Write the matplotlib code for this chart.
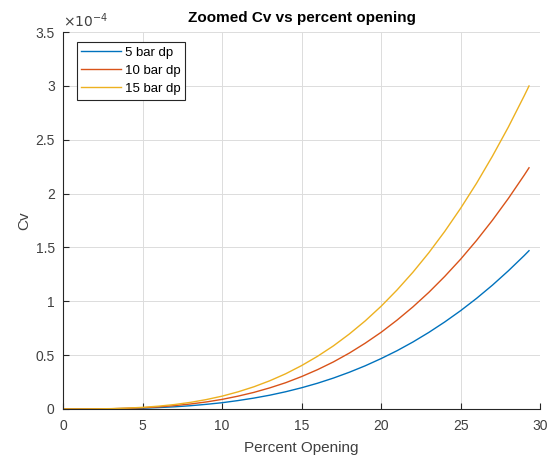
import matplotlib
matplotlib.use("Agg")
import matplotlib.pyplot as plt
from matplotlib.ticker import FuncFormatter

plt.rcParams['font.family'] = ['Liberation Sans', 'DejaVu Sans']

# percent opening
opening = [0, 1, 2, 3, 4, 5, 6, 7, 8, 9, 10, 11, 12, 13, 14, 15, 16, 17, 18, 19,
           20, 21, 22, 23, 24, 25, 26, 27, 28, 29, 29.3]
# Cv values (in units of 1e-4)
cv_5bar = [0, 0, 0, 0.002, 0.004, 0.007, 0.013, 0.02, 0.03, 0.043, 0.058, 0.078,
           0.101, 0.128, 0.16, 0.197, 0.239, 0.287, 0.341, 0.401, 0.468, 0.541,
           0.622, 0.711, 0.808, 0.913, 1.027, 1.15, 1.283, 1.425, 1.47]
cv_10bar = [0, 0, 0.001, 0.002, 0.006, 0.011, 0.019, 0.031, 0.046, 0.065, 0.089,
            0.119, 0.154, 0.196, 0.244, 0.301, 0.365, 0.437, 0.519, 0.611, 0.712,
            0.825, 0.948, 1.083, 1.231, 1.391, 1.565, 1.753, 1.955, 2.172, 2.24]
cv_15bar = [0, 0, 0.001, 0.003, 0.008, 0.015, 0.026, 0.041, 0.061, 0.087, 0.119,
            0.159, 0.206, 0.262, 0.327, 0.403, 0.489, 0.586, 0.696, 0.818, 0.954,
            1.105, 1.27, 1.451, 1.649, 1.864, 2.096, 2.348, 2.618, 2.909, 3.0]
labels = ['5 bar dp', '10 bar dp', '15 bar dp']
colors = ['#0072BD', '#D95319', '#EDB120']

fig = plt.figure(figsize=(5.58, 4.59), dpi=100)
ax = fig.add_axes([0.113, 0.109, 0.855, 0.821])

for ys, lab, c in zip([cv_5bar, cv_10bar, cv_15bar], labels, colors):
    ax.plot(opening, [v * 1e-4 for v in ys], color=c, lw=1.0, label=lab)

ax.set_xlim(0, 30)
ax.set_ylim(0, 3.5e-4)
ax.set_xticks([0, 5, 10, 15, 20, 25, 30])
ax.set_yticks([i * 0.5e-4 for i in range(8)])
ax.yaxis.set_major_formatter(FuncFormatter(lambda v, p: f"{v * 1e4:g}"))
ax.grid(True, color='#dcdcdc', lw=0.7)
ax.set_axisbelow(True)

for s in ['top', 'right']:
    ax.spines[s].set_visible(False)
for s in ['left', 'bottom']:
    ax.spines[s].set_color('#262626')
    ax.spines[s].set_linewidth(0.8)
ax.tick_params(direction='in', colors='#262626', labelcolor='#404040',
               labelsize=10, length=4, width=0.8)
ax.tick_params(axis='x', pad=7)
ax.tick_params(axis='y', pad=6)

ax.text(0.0, 1.005, r'$\times10^{-4}$', transform=ax.transAxes, fontsize=10,
        color='#404040', ha='left', va='bottom')
ax.set_title('Zoomed Cv vs percent opening', fontsize=11, fontweight='bold', pad=7)
ax.set_xlabel('Percent Opening', fontsize=11, color='#404040', labelpad=6)
ax.set_ylabel('Cv', fontsize=11, color='#404040', labelpad=3)

leg = ax.legend(loc='upper left', bbox_to_anchor=(0.02, 0.985), fontsize=9.5,
                fancybox=False, framealpha=1, edgecolor='#262626',
                handlelength=3.0, handletextpad=0.3, borderpad=0.35,
                labelspacing=0.45, borderaxespad=0.3)
leg.get_frame().set_linewidth(0.8)

fig.savefig('out.png', dpi=100)
